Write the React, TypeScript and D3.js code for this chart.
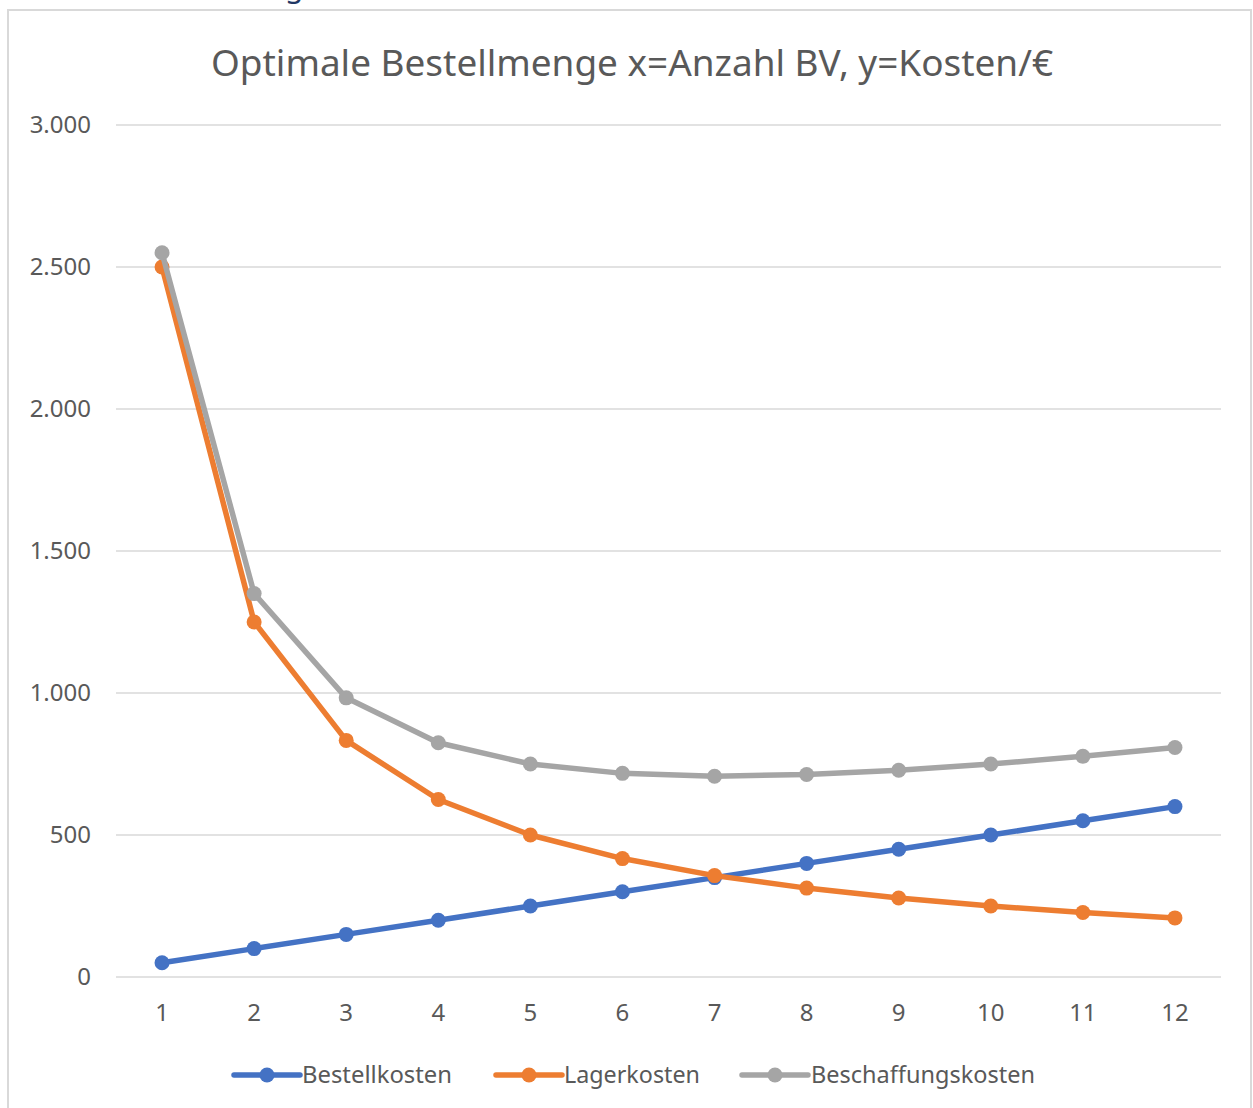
import React from "react";
import * as d3 from "d3";

const categories = ["1", "2", "3", "4", "5", "6", "7", "8", "9", "10", "11", "12"];
const bestellkosten = [50, 100, 150, 200, 250, 300, 350, 400, 450, 500, 550, 600];
const lagerkosten = [2500, 1250, 833, 625, 500, 417, 357, 313, 278, 250, 227, 208];
const beschaffungskosten = [2550, 1350, 983, 825, 750, 717, 707, 713, 728, 750, 777, 808];
const yTicks = [0, 500, 1000, 1500, 2000, 2500, 3000];

const seriesList = [
  { name: "Bestellkosten", values: bestellkosten, color: "#4472c4" },
  { name: "Lagerkosten", values: lagerkosten, color: "#ed7d31" },
  { name: "Beschaffungskosten", values: beschaffungskosten, color: "#a5a5a5" },
];

const W = 1253;
const H = 1108;
const plot = { left: 116, right: 1221, top: 125, bottom: 977 };
const FONT = "'Segoe UI', 'Noto Sans', 'Open Sans', sans-serif";
const TEXT = "#595959";

const fmt = (v: number) => (v === 0 ? "0" : d3.format(",")(v).replace(/,/g, "."));

export default function App() {
  const x = d3.scaleBand<string>().domain(categories).range([plot.left, plot.right]);
  const y = d3.scaleLinear().domain([0, 3000]).range([plot.bottom, plot.top]);
  const cx = (c: string) => (x(c) as number) + x.bandwidth() / 2;

  const line = d3
    .line<number>()
    .x((_, i) => cx(categories[i]))
    .y((d) => y(d));

  const legendItems = [
    { x: 234, textX: 302, w: 150 },
    { x: 496, textX: 564, w: 136 },
    { x: 742, textX: 811, w: 224 },
  ];

  return (
    <svg
      width={W}
      height={H}
      style={{ position: "absolute", left: 0, top: 0, background: "#fff" }}
      fontFamily={FONT}
    >
      {/* descender of the heading above the chart */}
      <text x={285} y={-3} fontSize={30} fill="#1f3864" fontFamily={FONT}>
        g
      </text>

      {/* chart frame */}
      <rect x={8} y={10} width={1243} height={1120} fill="#fff" stroke="#d9d9d9" strokeWidth={2} />

      <text
        x={211}
        y={76}
        fontSize={36}
        fill={TEXT}
        textLength={842}
        lengthAdjust="spacingAndGlyphs"
      >
        Optimale Bestellmenge x=Anzahl BV, y=Kosten/€
      </text>

      {/* gridlines and y labels */}
      {yTicks.map((t) => (
        <g key={t}>
          <line x1={plot.left} x2={plot.right} y1={y(t)} y2={y(t)} stroke="#d9d9d9" strokeWidth={1.5} />
          <text x={91} y={y(t) + 8} textAnchor="end" fontSize={24} fill={TEXT}>
            {fmt(t)}
          </text>
        </g>
      ))}

      {/* x labels */}
      {categories.map((c) => (
        <text key={c} x={cx(c)} y={1021} textAnchor="middle" fontSize={24} fill={TEXT}>
          {c}
        </text>
      ))}

      {/* series */}
      {seriesList.map((s) => (
        <g key={s.name}>
          <path d={line(s.values) || ""} fill="none" stroke={s.color} strokeWidth={5.5} strokeLinejoin="round" />
          {s.values.map((v, i) => (
            <circle key={i} cx={cx(categories[i])} cy={y(v)} r={7.5} fill={s.color} />
          ))}
        </g>
      ))}

      {/* legend */}
      {seriesList.map((s, i) => {
        const li = legendItems[i];
        return (
          <g key={s.name}>
            <line x1={li.x} x2={li.x + 66} y1={1075} y2={1075} stroke={s.color} strokeWidth={5.5} strokeLinecap="round" />
            <circle cx={li.x + 33} cy={1075} r={7.5} fill={s.color} />
            <text
              x={li.textX}
              y={1083}
              fontSize={23}
              fill={TEXT}
              textLength={li.w}
              lengthAdjust="spacingAndGlyphs"
            >
              {s.name}
            </text>
          </g>
        );
      })}
    </svg>
  );
}
